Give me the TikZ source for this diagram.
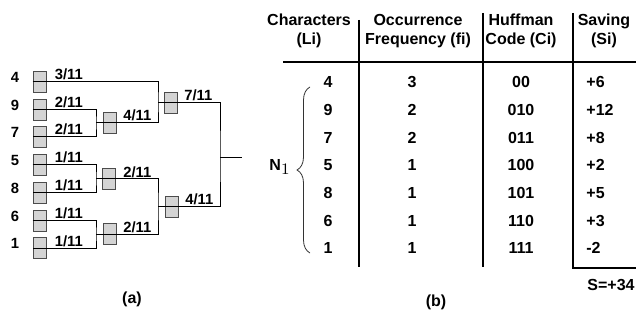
\documentclass[tikz,border=0pt]{standalone}
\usepackage{fontspec}
\setmainfont{Liberation Sans}
\usetikzlibrary{decorations.pathreplacing}

\tikzset{
  hbox/.style={draw=black!70, fill=black!17, minimum width=6.5pt, minimum height=10.5pt, inner sep=0pt},
  wt/.style={anchor=base west, inner sep=0pt, font=\fontsize{7.4}{8}\selectfont\bfseries},
  lbl/.style={inner sep=0pt, font=\fontsize{7.4}{8}\selectfont\bfseries},
  head/.style={inner sep=0pt, align=center, font=\fontsize{8}{9.6}\selectfont\bfseries},
  cell/.style={inner sep=0pt, font=\fontsize{8}{9}\selectfont\bfseries},
  tline/.style={line width=1.1pt},
  tree/.style={line width=0.5pt}
}

\begin{document}
\begin{tikzpicture}[x=0.5pt,y=0.5pt]
\useasboundingbox (0,0) rectangle (636,-320);

% leaves
\node[lbl, anchor=base] (c4) at (15,-83) {4};
\node[lbl, anchor=base] (c9) at (15,-111) {9};
\node[lbl, anchor=base] (c7) at (15,-138) {7};
\node[lbl, anchor=base] (c5) at (15,-166) {5};
\node[lbl, anchor=base] (c8) at (15,-194) {8};
\node[lbl, anchor=base] (c6) at (15,-221) {6};
\node[lbl, anchor=base] (c1) at (15,-249) {1};
\node[hbox] (b4) at (39.5,-82) {};
\node[hbox] (b9) at (39.5,-109.5) {};
\node[hbox] (b7) at (39.5,-137) {};
\node[hbox] (b5) at (39.5,-165) {};
\node[hbox] (b8) at (39.5,-193) {};
\node[hbox] (b6) at (39.5,-220.5) {};
\node[hbox] (b1) at (39.5,-248) {};

% inner nodes
\node[hbox] (i97) at (110,-123) {};
\node[hbox] (i58) at (109,-179) {};
\node[hbox] (i61) at (110,-234) {};
\node[hbox] (i4997) at (171,-102.5) {};
\node[hbox] (i5861) at (172,-206.5) {};
\coordinate (j97) at (96,-123);
\coordinate (j58) at (96,-179);
\coordinate (j61) at (96,-234);
\coordinate (j4997) at (158,-102.5);
\coordinate (j5861) at (158,-206.5);
\coordinate (jroot) at (220,-158);
\coordinate (out) at (242,-158);

\draw[tree] (b9.west) -| (j97) |- (b7.west);
\draw[tree] (b5.west) -| (j58) |- (b8.west);
\draw[tree] (b6.west) -| (j61) |- (b1.west);
\draw[tree] (b4.west) -| (j4997) |- (j97);
\draw[tree] (j58) -| (j5861) |- (j61);
\draw[tree] (j4997) -| (jroot) |- (j5861);
\draw[tree] (jroot) -- (out);

% weights
\node[wt] (w4) at ([xshift=4pt,yshift=1pt]b4.east) {3/11};
\node[wt] (w9) at ([xshift=4pt,yshift=1pt]b9.east) {2/11};
\node[wt] (w7) at ([xshift=4pt,yshift=1pt]b7.east) {2/11};
\node[wt] (w5) at ([xshift=4pt,yshift=1pt]b5.east) {1/11};
\node[wt] (w8) at ([xshift=4pt,yshift=1pt]b8.east) {1/11};
\node[wt] (w6) at ([xshift=4pt,yshift=1pt]b6.east) {1/11};
\node[wt] (w1) at ([xshift=4pt,yshift=1pt]b1.east) {1/11};
\node[wt] (w97) at ([xshift=3pt,yshift=1pt]i97.east) {4/11};
\node[wt] (w58) at ([xshift=3.5pt,yshift=1pt]i58.east) {2/11};
\node[wt] (w61) at ([xshift=3pt,yshift=1pt]i61.east) {2/11};
\node[wt] (w4997) at ([xshift=3pt,yshift=1pt]i4997.east) {7/11};
\node[wt] (w5861) at ([xshift=3pt,yshift=1pt]i5861.east) {4/11};

\node[lbl, font=\fontsize{8}{9}\selectfont\bfseries] (capa) at (132,-299) {(a)};

% table
\node[head] (hc) at (309,-31) {Characters\\(Li)};
\node[head] (hf) at (418,-31) {Occurrence\\Frequency (fi)};
\node[head] (hh) at (521,-31) {Huffman\\Code (Ci)};
\node[head] (hs) at (604,-31) {Saving\\(Si)};

\draw[tline] (283,-62) -- (636,-62);
\draw[tline] (359,-20) -- (359,-267);
\draw[tline] (483,-13) -- (483,-267);
\draw[tline] (573,-13) -- (573,-268) -- (636,-268);

\node[cell] (l4) at (328,-82) {4};
\node[cell] (l9) at (328,-110) {9};
\node[cell] (l7) at (328,-138) {7};
\node[cell] (l5) at (328,-165) {5};
\node[cell] (l8) at (328,-193) {8};
\node[cell] (l6) at (328,-221) {6};
\node[cell] (l1) at (328,-248) {1};

\node[cell] (f4) at (412,-82) {3};
\node[cell] (f9) at (412,-110) {2};
\node[cell] (f7) at (412,-138) {2};
\node[cell] (f5) at (412,-165) {1};
\node[cell] (f8) at (412,-193) {1};
\node[cell] (f6) at (412,-221) {1};
\node[cell] (f1) at (412,-248) {1};

\node[cell] (h4) at (521,-82) {00};
\node[cell] (h9) at (521,-110) {010};
\node[cell] (h7) at (521,-138) {011};
\node[cell] (h5) at (521,-165) {100};
\node[cell] (h8) at (521,-193) {101};
\node[cell] (h6) at (521,-221) {110};
\node[cell] (h1) at (521,-248) {111};

\node[cell, anchor=west] (s4) at (586,-82) {+6};
\node[cell, anchor=west] (s9) at (586,-110) {+12};
\node[cell, anchor=west] (s7) at (586,-138) {+8};
\node[cell, anchor=west] (s5) at (586,-165) {+2};
\node[cell, anchor=west] (s8) at (586,-193) {+5};
\node[cell, anchor=west] (s6) at (586,-221) {+3};
\node[cell, anchor=west] (s1) at (586,-248) {-2};
\node[cell] (stot) at (611,-285) {S=+34};

\draw[black!80, line width=0.4pt, decorate, decoration={brace, amplitude=6.5pt}]
  (310,-253) -- (310,-87);
\node[cell] (n1) at (280,-167) {N$_{\textstyle 1}$};

\node[lbl, font=\fontsize{8}{9}\selectfont\bfseries] (capb) at (436,-302) {(b)};
\end{tikzpicture}
\end{document}
